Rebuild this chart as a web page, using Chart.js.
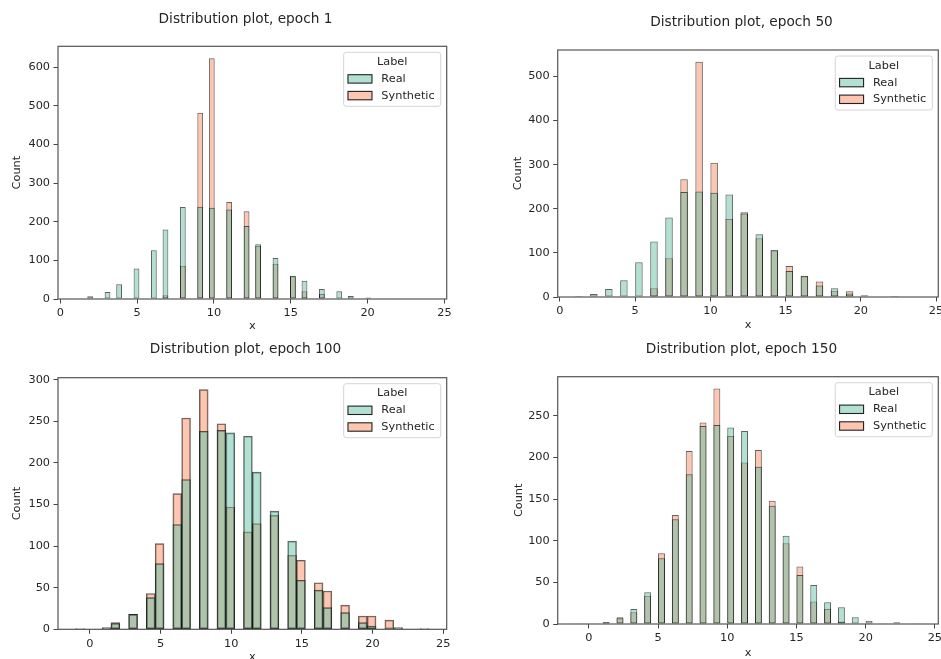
<!DOCTYPE html>
<html><head><meta charset="utf-8">
<script src="https://cdn.jsdelivr.net/npm/chart.js@4/dist/chart.umd.min.js"></script>
<style>
html,body{margin:0;padding:0;background:#fff;overflow:hidden;width:941px;height:659px;}
canvas{position:absolute;}
</style></head><body>
<canvas id="c1"></canvas><canvas id="c2"></canvas><canvas id="c3"></canvas><canvas id="c4"></canvas>
<script>
// ---------- data ----------
const xValues        = [-1,0,1,2,3,4,5,6,7,8,9,10,11,12,13,14,15,16,17,18,19,20,21,22,23,24];
const realCounts     = [0,0,2,7,18,38,79,126,180,238,239,236,232,189,142,106,59,47,26,20,8,4,1,2,0,1];
const synthEpoch1    = [0,0,0,0,0,0,0,1,10,86,482,623,251,227,137,91,60,20,13,0,0,0,0,0,0,0];
const synthEpoch50   = [0,0,0,0,0,0,0,20,88,267,533,304,177,192,133,106,70,48,35,14,13,0,0,0,0,0];
const synthEpoch100  = [1,0,1,8,18,43,103,163,254,288,247,147,117,127,137,89,83,56,46,29,16,16,11,1,0,0];
const synthEpoch150  = [1,1,2,8,14,34,85,131,208,242,283,226,194,209,148,97,69,27,18,3,1,1,0,0,0,0];
const seriesLabels   = ['Real', 'Synthetic'];
const legendTitle    = 'Label';
const xAxisTitle     = 'x';
const yAxisTitle     = 'Count';
const titles         = ['Distribution plot, epoch 1','Distribution plot, epoch 50','Distribution plot, epoch 100','Distribution plot, epoch 150'];
const xTicks         = [0,5,10,15,20,25];
const yTicks1        = [0,100,200,300,400,500,600];
const yTicks50       = [0,100,200,300,400,500];
const yTicks100      = [0,50,100,150,200,250,300];
const yTicks150      = [0,50,100,150,200,250];
// histogram binning used by each panel (range and bin count)
const bins1   = {lo: 1,  hi: 24, count: 61};
const bins50  = {lo: 1,  hi: 24, count: 46};
const bins100 = {lo: -1, hi: 24, count: 40};
const bins150 = {lo: -1, hi: 24, count: 50};

// ---------- styling ----------
const FONT = '"DejaVu Sans", "Liberation Sans", sans-serif';
const TEXT = '#262626';
const REAL_FILL = 'rgba(102,194,165,0.5)';
const SYN_FILL  = 'rgba(252,141,98,0.5)';
const EDGE = 'rgba(0,0,0,0.62)';
const AX_FS = 11.3, TITLE_FS = 13.7, LH = 1.2;
Chart.defaults.font.family = FONT;
Chart.defaults.color = TEXT;

function binCenter(v, b) {
  const w = (b.hi - b.lo) / b.count;
  const k = Math.min(b.count - 1, Math.floor((v - b.lo) * b.count / (b.hi - b.lo)));
  return b.lo + (k + 0.5) * w;
}

const spinePlugin = {
  id: 'spines',
  afterDatasetsDraw(chart) {
    const a = chart.chartArea, ctx = chart.ctx;
    ctx.save(); ctx.strokeStyle = '#555'; ctx.lineWidth = 1.2;
    ctx.strokeRect(a.left, a.top, a.right - a.left, a.bottom - a.top);
    ctx.restore();
  }
};

const legendPlugin = {
  id: 'mplLegend',
  afterDraw(chart) {
    const ctx = chart.ctx, a = chart.chartArea;
    ctx.save();
    ctx.font = AX_FS + 'px ' + FONT;
    const ds = chart.data.datasets;
    const tw = Math.max(...ds.map(d => ctx.measureText(d.label).width));
    const w = 37.7 + tw + 6, h = 54;
    const x0 = a.right - 6 - w, y0 = a.top + 6;
    ctx.beginPath(); ctx.roundRect(x0, y0, w, h, 2.5);
    ctx.fillStyle = 'rgba(255,255,255,0.8)'; ctx.fill();
    ctx.strokeStyle = '#d4d4d4'; ctx.lineWidth = 1; ctx.stroke();
    ctx.fillStyle = TEXT; ctx.textAlign = 'center'; ctx.textBaseline = 'middle';
    ctx.fillText(legendTitle, x0 + w / 2, y0 + 9.8);
    ds.forEach((d, i) => {
      const cy = y0 + 26.6 + i * 16.7;
      ctx.fillStyle = '#fff'; ctx.fillRect(x0 + 4.3, cy - 4.2, 24, 8.4);
      ctx.fillStyle = d.backgroundColor; ctx.fillRect(x0 + 4.3, cy - 4.2, 24, 8.4);
      ctx.strokeStyle = '#222'; ctx.lineWidth = 1.1; ctx.strokeRect(x0 + 4.3, cy - 4.2, 24, 8.4);
      ctx.fillStyle = TEXT; ctx.textAlign = 'left';
      ctx.fillText(d.label, x0 + 37.7, cy);
    });
    ctx.restore();
  }
};

// page geometry of each panel (plot area, title centre, axis-title positions)
const panels = [
  {id:'c1', title: titles[0], synth: synthEpoch1,   bins: bins1,   yTicks: yTicks1,
   left:0,   top:0,   h:340, area:{l:58,    r:446.7, t:46.3,  b:299},   titleX:245.5, titleY:19.5,  countX:17.3,  xLabelY:326.5},
  {id:'c2', title: titles[1], synth: synthEpoch50,  bins: bins50,  yTicks: yTicks50,
   left:470, top:0,   h:340, area:{l:557.7, r:938.3, t:50,    b:297},   titleX:741.5, titleY:22.8,  countX:518.3, xLabelY:325},
  {id:'c3', title: titles[2], synth: synthEpoch100, bins: bins100, yTicks: yTicks100,
   left:0,   top:330, h:345, area:{l:58,    r:446.7, t:377.7, b:629.3}, titleX:245.5, titleY:349.5, countX:17.3,  xLabelY:656.7},
  {id:'c4', title: titles[3], synth: synthEpoch150, bins: bins150, yTicks: yTicks150,
   left:470, top:330, h:345, area:{l:557.7, r:938.3, t:376.7, b:624},   titleX:741.5, titleY:349.5, countX:518.8, xLabelY:652.7}
];

panels.forEach(p => {
  const cv = document.getElementById(p.id);
  const cw = Math.round(2 * (p.titleX - p.left));   // title is centred on the canvas
  cv.width = cw; cv.height = p.h;
  cv.style.left = p.left + 'px'; cv.style.top = p.top + 'px';
  const L = p.area.l - p.left, R = p.area.r - p.left;
  const T = p.area.t - p.top,  B = p.area.b - p.top;
  const tcy = p.titleY - p.top;
  const yW = L;                 // left axis box width
  const rW = cw - R;            // empty right box width
  const axLH = AX_FS * LH, tLH = TITLE_FS * LH;
  const yTitlePadTop = (p.countX - p.left) - axLH / 2;
  const titlePadTop = tcy - tLH / 2;
  const titlePadBottom = T - titlePadTop - tLH;
  const xH = p.h - B;
  const xTitlePadBottom = p.h - (p.xLabelY - p.top) - axLH / 2;

  const b = p.bins;
  const span = b.hi - b.lo;
  const toPoints = counts => xValues.map((v, i) => ({x: binCenter(v, b), y: counts[i]})).filter(pt => pt.y > 0);
  const realPts = toPoints(realCounts), synPts = toPoints(p.synth);
  const xs = [...new Set([...realPts, ...synPts].map(pt => pt.x))].sort((a, c) => a - c);
  let minGap = Infinity;
  for (let i = 1; i < xs.length; i++) minGap = Math.min(minGap, xs[i] - xs[i - 1]);
  const binW = span / b.count;
  const yMax = Math.max(...realCounts, ...p.synth) * 1.05;

  const common = {grouped: false, categoryPercentage: 1, barPercentage: binW / minGap, yAxisID: 'y', xAxisID: 'x',
                  borderColor: EDGE, borderWidth: 1, borderSkipped: false};
  new Chart(cv, {
    type: 'bar',
    data: {datasets: [
      Object.assign({label: seriesLabels[0], data: realPts, backgroundColor: REAL_FILL}, common),
      Object.assign({label: seriesLabels[1], data: synPts,  backgroundColor: SYN_FILL}, common)
    ]},
    options: {
      responsive: false, maintainAspectRatio: false, animation: false, devicePixelRatio: 1,
      layout: {padding: 0},
      plugins: {
        legend: {display: false}, tooltip: {enabled: false},
        title: {display: true, text: p.title, fullSize: true, color: TEXT,
                font: {size: TITLE_FS, weight: 'normal', family: FONT, lineHeight: LH},
                padding: {top: titlePadTop, bottom: titlePadBottom}}
      },
      scales: {
        x: {type: 'linear', min: b.lo - 0.05 * span, max: b.hi + 0.05 * span, offset: false,
            afterBuildTicks: s => { s.ticks = xTicks.map(v => ({value: v})); },
            afterFit: s => { s.height = xH; s.paddingLeft = 0; s.paddingRight = 0; },
            grid: {display: true, offset: false, drawOnChartArea: false, drawTicks: true, tickLength: 4.5, tickColor: '#444', tickWidth: 1},
            border: {display: false},
            ticks: {padding: 3, maxRotation: 0, autoSkip: false, color: TEXT, font: {size: AX_FS, family: FONT}},
            title: {display: true, text: xAxisTitle, color: TEXT, font: {size: AX_FS, family: FONT, lineHeight: LH},
                    padding: {top: 0, bottom: xTitlePadBottom}}},
        y: {type: 'linear', position: 'left', min: 0, max: yMax,
            afterBuildTicks: s => { s.ticks = p.yTicks.map(v => ({value: v})); },
            afterFit: s => { s.width = yW; s.paddingTop = 0; s.paddingBottom = 0; },
            grid: {display: true, drawOnChartArea: false, drawTicks: true, tickLength: 4.5, tickColor: '#444', tickWidth: 1},
            border: {display: false},
            ticks: {padding: 3.5, color: TEXT, font: {size: AX_FS, family: FONT}},
            title: {display: true, text: yAxisTitle, color: TEXT, font: {size: AX_FS, family: FONT, lineHeight: LH},
                    padding: {top: yTitlePadTop, bottom: 0}}},
        pad: {type: 'linear', position: 'right', display: true,
              grid: {display: false}, border: {display: false}, ticks: {display: false}, title: {display: false},
              afterFit: s => { s.width = rW; s.paddingTop = 0; s.paddingBottom = 0; }}
      }
    },
    plugins: [spinePlugin, legendPlugin]
  });
});
</script>
</body></html>
